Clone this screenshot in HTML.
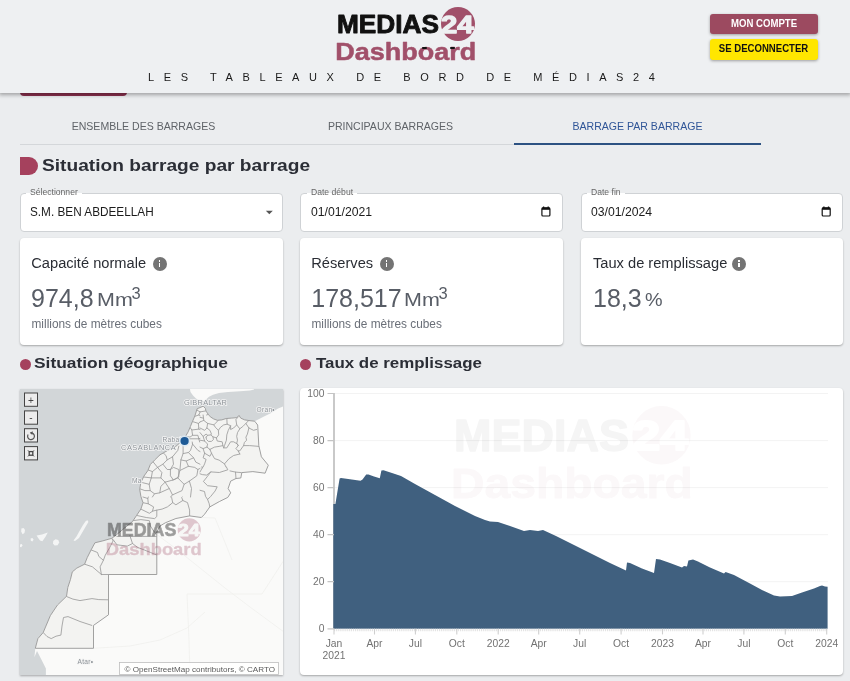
<!DOCTYPE html>
<html lang="fr">
<head>
<meta charset="utf-8">
<title>Medias24 Dashboard - Barrages</title>
<style>
*{box-sizing:border-box;margin:0;padding:0}
html,body{width:850px;height:681px;overflow:hidden}
body{background:#ebedef;font-family:"Liberation Sans",Arial,sans-serif;color:#222;position:relative}
.abs{position:absolute;white-space:nowrap}
#header{position:absolute;left:0;top:0;width:850px;height:93px;background:#eef0f2;box-shadow:0 1px 4px 1px rgba(0,0,0,.32);z-index:5}
.logo-medias{left:337px;top:8px;font-weight:700;font-size:26px;line-height:30px;color:#111;letter-spacing:-.1px}
.logo-dash{left:336px;top:35px;font-weight:700;font-size:24.4px;line-height:30px;color:#a1506a;letter-spacing:1.25px}
.logo-circle{left:441px;top:7px;width:34px;height:34px;border-radius:50%;background:#a1506a}
.logo-24{left:439px;top:8px;font-weight:700;font-size:26px;line-height:30px;color:#eef0f2;letter-spacing:-1.5px}
.subtitle{left:148px;top:70px;font-size:11px;line-height:14px;letter-spacing:9.6px;color:#1a1a1a}
.btn{position:absolute;left:710px;width:107.5px;height:20.5px;border-radius:3px;font-weight:700;font-size:10.2px;line-height:20.5px;text-align:center;box-shadow:0 1px 3px rgba(0,0,0,.35)}
.btn span{display:inline-block;transform:scaleX(.94)}
.btn1{top:13.6px;background:#9c4a60;color:#fff}
.btn2{top:39px;background:#ffe600;color:#111}
#stub{position:absolute;left:20px;top:78px;width:107px;height:18px;border-radius:4px;background:#8a2f4d;z-index:1}
.tab{position:absolute;top:120px;width:247px;text-align:center;font-size:10.55px;line-height:13px;color:#5f6368}
.tabline{position:absolute;left:20px;top:144px;width:494px;height:1px;background:#d4d7da}
.tabind{position:absolute;left:514px;top:143px;width:247px;height:2px;background:#2c5282}
.dshape{position:absolute;left:20px;top:157px;width:18px;height:18px;background:#a5415d;border-radius:0 9px 9px 0}
.h1{left:42px;top:154px;font-weight:700;font-size:17px;line-height:24px;color:#2b2e36;transform:scaleX(1.126);transform-origin:0 50%}
.field{position:absolute;top:193px;width:263px;height:39px;background:#fff;border:1px solid #cfd2d5;border-radius:4px}
.flabel{position:absolute;top:186px;font-size:8.6px;line-height:12px;color:#666;background:linear-gradient(#ebedef 0,#ebedef 7px,#fff 7px);padding:0 4px}
.fval{top:204px;font-size:12.4px;line-height:16px;color:#1c1c1c;transform:scaleX(.985);transform-origin:0 50%}
.card{position:absolute;top:238px;width:263px;height:107px;background:#fff;border-radius:4px;box-shadow:0 1px 2px rgba(0,0,0,.3)}
.ctitle{top:253.8px;font-size:14.65px;line-height:18px;color:#2a2d34}
.cnum{font-size:25px;line-height:28px;color:#585d66;top:284.4px}
.cunit{font-size:19px;line-height:28px;color:#585d66;top:286px;transform:scaleX(1.13);transform-origin:0 50%}
.csup{font-size:16.5px;line-height:20px;color:#585d66;top:283px}
.csub{font-size:11.85px;line-height:14px;color:#6a6f78;top:316.6px}
.info{position:absolute;top:256.8px;width:14.2px;height:14.2px;border-radius:50%;background:#747474}
.info:before{content:"";position:absolute;left:6.2px;top:3.4px;width:1.8px;height:1.7px;background:#fff}
.info:after{content:"";position:absolute;left:6.2px;top:5.9px;width:1.8px;height:4.8px;background:#fff}
.dot{position:absolute;top:358.5px;width:11px;height:11px;border-radius:50%;background:#a5415d}
.h2{top:352.3px;font-weight:700;font-size:15.5px;line-height:22px;color:#2b2e36;transform-origin:0 50%}
#map{position:absolute;left:20px;top:389px;width:263px;height:286px;box-shadow:0 1px 2px rgba(0,0,0,.3);overflow:hidden;background:#d3d7d9}
#chart{position:absolute;left:300px;top:388px;width:543px;height:287px;background:#fff;border-radius:4px;box-shadow:0 1px 2px rgba(0,0,0,.3);overflow:hidden}
</style>
</head>
<body>
<div id="stub"></div>
<div id="header">
  <!--LOGO--><svg width="850" height="93" viewBox="0 0 850 93" style="position:absolute;left:0;top:0" font-family="Liberation Sans, Arial, sans-serif"><circle cx="458" cy="24" r="17" fill="#a1506a"/><text x="441" y="32.6" font-size="24.5" font-weight="700" fill="#eef0f2" stroke="#eef0f2" stroke-width="1.3" stroke-linejoin="round" textLength="32.5" lengthAdjust="spacingAndGlyphs">24</text><text x="337" y="33.2" font-size="26" font-weight="700" fill="#111" stroke="#111" stroke-width="0.9" stroke-linejoin="round" textLength="102" lengthAdjust="spacingAndGlyphs">MEDIAS</text><text x="335.3" y="60.3" font-size="24.5" font-weight="700" fill="#a1506a" stroke="#a1506a" stroke-width="0.5" stroke-linejoin="round" textLength="141" lengthAdjust="spacingAndGlyphs">Dashboard</text><rect x="422" y="47" width="5" height="2" rx="1" fill="#111"/><rect x="450" y="47" width="5" height="2" rx="1" fill="#111"/></svg><!--/LOGO-->
  <div class="abs subtitle">LES TABLEAUX DE BORD DE MÉDIAS24</div>
  <div class="btn btn1"><span>MON COMPTE</span></div>
  <div class="btn btn2"><span>SE DECONNECTER</span></div>
</div>

<div class="tab" style="left:20px">ENSEMBLE DES BARRAGES</div>
<div class="tab" style="left:267px">PRINCIPAUX BARRAGES</div>
<div class="tab" style="left:514px;color:#2f5597">BARRAGE PAR BARRAGE</div>
<div class="tabline"></div>
<div class="tabind"></div>

<div class="dshape"></div>
<div class="abs h1">Situation barrage par barrage</div>

<div class="field" style="left:20px"></div>
<div class="field" style="left:300px"></div>
<div class="field" style="left:581px;width:262px"></div>
<div class="flabel" style="left:26px">Sélectionner</div>
<div class="flabel" style="left:307px">Date début</div>
<div class="flabel" style="left:587px">Date fin</div>
<div class="abs fval" style="left:30px;transform:scaleX(.95)">S.M. BEN ABDEELLAH</div>
<div class="abs fval" style="left:311px">01/01/2021</div>
<div class="abs fval" style="left:591px">03/01/2024</div>

<svg class="abs" style="left:0;top:190px" width="850" height="45" viewBox="0 190 850 45">
<path d="M265.8 210.7h7l-3.5 3.6z" fill="#555"/>
<g id="cal1" fill="none" stroke="#111" stroke-width="1.2"><rect x="541.9" y="207.9" width="8" height="8.1" rx="1"/><path d="M541.9 208.7h8" stroke-width="2.2"/><path d="M543.6 206.4v1.6M548.2 206.4v1.6" stroke-width="1.3"/></g>
<g fill="none" stroke="#111" stroke-width="1.2" transform="translate(280.3 0)"><rect x="541.9" y="207.9" width="8" height="8.1" rx="1"/><path d="M541.9 208.7h8" stroke-width="2.2"/><path d="M543.6 206.4v1.6M548.2 206.4v1.6" stroke-width="1.3"/></g>
</svg>
<div class="card" style="left:20px"></div>
<div class="card" style="left:300px"></div>
<div class="card" style="left:581px;width:262px"></div>

<div class="abs ctitle" style="left:31.3px">Capacité normale</div><div class="info" style="left:152.5px"></div>
<div class="abs ctitle" style="left:311.3px">Réserves</div><div class="info" style="left:379.5px"></div>
<div class="abs ctitle" style="left:593px">Taux de remplissage</div><div class="info" style="left:732.1px"></div>

<div class="abs cnum" style="left:31px">974,8</div><div class="abs cunit" style="left:97px">Mm</div><div class="abs csup" style="left:131.5px">3</div>
<div class="abs cnum" style="left:311.3px">178,517</div><div class="abs cunit" style="left:404px">Mm</div><div class="abs csup" style="left:438.5px">3</div>
<div class="abs cnum" style="left:593px">18,3</div><div class="abs cunit" style="left:644.5px;transform:scaleX(1.04)">%</div>
<div class="abs csub" style="left:31.5px">millions de mètres cubes</div>
<div class="abs csub" style="left:311.5px">millions de mètres cubes</div>

<div class="dot" style="left:20px"></div>
<div class="abs h2" style="left:34.3px;transform:scaleX(1.12)">Situation géographique</div>
<div class="dot" style="left:300px"></div>
<div class="abs h2" style="left:316px;transform:scaleX(1.09)">Taux de remplissage</div>

<div id="map"><!--MAP--><svg width="264" height="287" viewBox="20 389 264 287" style="position:absolute;left:0;top:0" font-family="Liberation Sans, Arial, sans-serif">
<rect x="20" y="389" width="264" height="287" fill="#d2d6d8"/>
<path d="M45.9,676.0 L45.9,668.6 L41.5,659.8 L37.0,651.0 L34.4,657.2 L35.3,648.3 L37.9,638.6 L43.2,632.5 L50.3,615.7 L57.4,605.1 L66.5,596.3 L67.8,587.5 L70.4,579.7 L72.3,571.9 L76.8,568.1 L84.6,564.2 L87.2,557.7 L91.1,549.9 L94.9,542.8 L102.7,540.9 L111.8,538.3 L116.9,534.4 L124.7,527.9 L132.5,521.5 L136.6,515.4 L140.9,509.0 L143.0,502.7 L140.9,496.4 L139.8,490.0 L139.8,488.7 L140.9,482.4 L144.0,476.0 L147.8,470.7 L150.4,464.4 L154.6,460.1 L160.0,454.8 L167.4,450.6 L175.8,446.4 L183.4,439.7 L185.6,436.2 L188.2,431.8 L190.4,426.5 L192.6,421.2 L194.9,415.9 L197.1,408.8 L203.2,406.2 L205.4,408.4 L205.9,411.0 L208.1,414.1 L210.3,416.8 L213.8,419.0 L217.4,420.3 L221.8,419.9 L226.2,418.5 L231.5,418.1 L236.8,417.6 L239.0,415.4 L240.7,418.1 L244.7,419.9 L250.0,420.7 L254.7,421.2 L263.5,416.8 L270.6,413.2 L277.6,408.8 L284.0,406.2 L284.0,676.0Z" fill="#fafaf9"/>
<path d="M189.8,388.0 L190.5,392.0 L193.0,395.5 L196.0,398.5 L200.0,401.0 L203.5,401.5 L206.0,399.5 L209.0,396.8 L213.0,394.8 L219.0,393.0 L228.0,392.0 L240.0,391.3 L250.0,390.5 L254.0,389.5 L254.0,388.0Z" fill="#fafaf9"/>
<path d="M87.6,520.2 L88.4,522.0 L86.0,526.0 L82.5,532.0 L79.0,538.0 L75.0,541.0 L73.5,540.4 L76.5,536.5 L79.5,531.0 L83.0,525.0 L85.8,521.0Z" fill="#f4f5f5"/>
<path d="M53.2,541.0 L55.5,539.3 L58.3,540.0 L59.2,542.6 L57.6,545.2 L54.6,545.4 L53.0,543.4Z" fill="#f4f5f5"/>
<path d="M36.6,535.4 L42.0,534.4 L47.8,532.4 L45.5,536.8 L42.4,541.2 L40.0,540.6 L38.0,537.8Z" fill="#f4f5f5"/>
<path d="M30.6,538.6 L32.4,538.0 L33.6,539.6 L32.4,541.4 L30.8,540.8Z" fill="#f4f5f5"/>
<path d="M21.4,528.6 L23.6,528.0 L25.0,530.0 L24.4,533.0 L22.6,534.2 L21.2,531.6Z" fill="#f4f5f5"/>
<path d="M20.0,544.6 L21.8,544.0 L22.6,545.6 L21.2,547.2 L20.0,547.0Z" fill="#f4f5f5"/>
<path d="M157.0,534.7 L175.0,548.0 L200.0,568.0 L225.0,588.0 L250.0,607.0 L284.0,632.0" fill="none" stroke="#f0f0ee" stroke-width="0.8"/>
<path d="M187.0,594.0 L230.0,594.0 L262.0,594.0" fill="none" stroke="#f0f0ee" stroke-width="0.8"/>
<path d="M187.0,594.0 L189.0,640.0 L190.0,676.0" fill="none" stroke="#f0f0ee" stroke-width="0.8"/>
<path d="M201.0,517.5 L215.0,518.0 L224.0,540.0 L232.0,560.0" fill="none" stroke="#f0f0ee" stroke-width="0.8"/>
<path d="M93.5,648.3 L130.0,646.0 L160.0,640.0 L187.0,628.0 L205.0,612.0" fill="none" stroke="#f0f0ee" stroke-width="0.8"/>
<path d="M284.0,560.0 L262.0,594.0" fill="none" stroke="#f0f0ee" stroke-width="0.8"/>
<clipPath id="mclip"><path d="M203.2,406.2 L205.4,408.4 L205.9,411.0 L208.1,414.1 L210.3,416.8 L213.8,419.0 L217.4,420.3 L221.8,419.9 L226.2,418.5 L231.5,418.1 L236.8,417.6 L239.0,415.4 L240.7,418.1 L244.7,419.9 L250.0,420.7 L254.7,421.2 L257.7,425.0 L258.8,445.6 L261.4,456.8 L268.3,465.2 L265.1,473.2 L252.9,471.6 L241.8,472.6 L240.8,478.0 L236.0,478.5 L230.7,481.1 L228.1,488.5 L230.7,492.8 L227.8,497.4 L219.3,501.6 L209.8,506.9 L204.5,514.3 L201.3,517.5 L189.6,515.9 L175.9,518.5 L165.3,522.8 L160.0,526.0 L156.8,532.0 L156.8,574.5 L108.5,574.5 L108.5,614.8 L93.5,625.4 L93.5,648.3 L35.3,648.3 L37.9,638.6 L43.2,632.5 L50.3,615.7 L57.4,605.1 L66.5,596.3 L67.8,587.5 L70.4,579.7 L72.3,571.9 L76.8,568.1 L84.6,564.2 L87.2,557.7 L91.1,549.9 L94.9,542.8 L102.7,540.9 L111.8,538.3 L116.9,534.4 L124.7,527.9 L132.5,521.5 L136.6,515.4 L140.9,509.0 L143.0,502.7 L140.9,496.4 L139.8,490.0 L139.8,488.7 L140.9,482.4 L144.0,476.0 L147.8,470.7 L150.4,464.4 L154.6,460.1 L160.0,454.8 L167.4,450.6 L175.8,446.4 L183.4,439.7 L185.6,436.2 L188.2,431.8 L190.4,426.5 L192.6,421.2 L194.9,415.9 L197.1,408.8 L203.2,406.2Z"/></clipPath>
<path d="M203.2,406.2 L205.4,408.4 L205.9,411.0 L208.1,414.1 L210.3,416.8 L213.8,419.0 L217.4,420.3 L221.8,419.9 L226.2,418.5 L231.5,418.1 L236.8,417.6 L239.0,415.4 L240.7,418.1 L244.7,419.9 L250.0,420.7 L254.7,421.2 L257.7,425.0 L258.8,445.6 L261.4,456.8 L268.3,465.2 L265.1,473.2 L252.9,471.6 L241.8,472.6 L240.8,478.0 L236.0,478.5 L230.7,481.1 L228.1,488.5 L230.7,492.8 L227.8,497.4 L219.3,501.6 L209.8,506.9 L204.5,514.3 L201.3,517.5 L189.6,515.9 L175.9,518.5 L165.3,522.8 L160.0,526.0 L156.8,532.0 L156.8,574.5 L108.5,574.5 L108.5,614.8 L93.5,625.4 L93.5,648.3 L35.3,648.3 L37.9,638.6 L43.2,632.5 L50.3,615.7 L57.4,605.1 L66.5,596.3 L67.8,587.5 L70.4,579.7 L72.3,571.9 L76.8,568.1 L84.6,564.2 L87.2,557.7 L91.1,549.9 L94.9,542.8 L102.7,540.9 L111.8,538.3 L116.9,534.4 L124.7,527.9 L132.5,521.5 L136.6,515.4 L140.9,509.0 L143.0,502.7 L140.9,496.4 L139.8,490.0 L139.8,488.7 L140.9,482.4 L144.0,476.0 L147.8,470.7 L150.4,464.4 L154.6,460.1 L160.0,454.8 L167.4,450.6 L175.8,446.4 L183.4,439.7 L185.6,436.2 L188.2,431.8 L190.4,426.5 L192.6,421.2 L194.9,415.9 L197.1,408.8 L203.2,406.2Z" fill="#f3f3f1" stroke="#969696" stroke-width="0.9" stroke-linejoin="round"/>
<path d="M196.2,409.7 L200.1,411.9 L205.4,411.0 M200.1,411.9 L198.8,415.0 L194.9,416.3 M198.8,415.0 L200.0,415.6 M206.6,415.0 L207.6,414.6 M200.0,422.2 L198.4,423.4 L192.6,421.6 M198.4,423.4 L198.8,429.1 L191.8,430.0 L190.0,427.4 M198.8,429.1 L200.0,429.5 M191.8,430.0 L192.6,435.3 L190.0,437.1 L186.0,436.2 M192.6,435.3 L197.9,435.3 L198.8,438.8 L200.0,438.4 M199.7,442.0 L198.8,438.8 M188.2,438.8 L198.8,438.8 M230.0,470.9 L235.5,472.1 L241.3,472.6 M235.5,472.1 L236.0,478.5 M226.4,467.0 L227.8,469.8 L219.3,472.5 L210.8,471.9 L206.6,475.1 L202.4,474.6 L200.0,473.8 M210.8,471.9 L207.6,476.2 L203.4,481.5 L207.6,485.7 L217.2,486.8 L215.1,491.0 L210.8,496.3 L207.6,499.5 L209.2,503.7 L209.8,506.9 M200.0,472.0 L202.4,467.7 L202.6,467.0 M182.1,497.0 L181.7,497.4 L182.8,500.5 L187.5,502.6 L189.6,510.1 L189.6,515.9 M200.0,490.3 L204.5,491.5 L205.5,496.3 L207.6,499.5 M171.6,497.0 L171.6,497.4 L172.7,502.6 L175.9,504.8 L182.8,500.5 M172.7,502.6 L170.0,504.9 M201.5,467.0 L202.4,467.7 M143.0,497.0 L147.8,498.5 L148.3,503.8 L143.0,502.7 M147.8,498.5 L148.3,497.0 M148.3,503.8 L153.6,506.9 L152.5,511.2 L149.4,513.3 L140.9,509.1 M152.5,511.2 L156.8,510.1 L156.8,516.5 L154.6,518.6 L146.2,517.5 L136.6,515.4 M156.8,510.1 L162.1,509.1 L167.4,506.9 L170.0,504.9 M132.4,520.7 L140.9,519.6 L149.4,520.7 L150.4,526.0 L154.6,532.4 L156.8,534.5 M226.8,417.7 L227.1,424.2 L230.6,425.7 L230.6,429.5 L233.6,428.0 L236.7,424.9 L235.9,419.6 L238.2,416.9 M227.1,424.2 L223.7,424.9 L220.6,427.2 L218.4,430.3 L218.7,434.9 L216.4,437.9 L217.2,441.0 L222.2,441.8 L222.9,445.6 L223.7,447.9 L226.8,447.9 L230.6,441.8 L233.6,441.8 L237.5,444.1 L238.2,445.6 M230.6,425.7 L228.3,430.3 L226.8,434.9 L226.4,440.2 L224.5,445.6 L223.7,447.9 M236.7,424.9 L239.8,428.8 L237.5,432.6 L236.7,436.4 L237.5,440.2 L236.7,443.3 L238.2,445.6 L235.9,448.6 L238.2,450.9 L239.8,454.0 M239.8,428.8 L242.8,426.5 L245.9,423.4 L248.9,420.4 M245.9,423.4 L248.9,428.0 L253.5,430.3 L256.6,429.5 M248.9,428.0 L247.4,434.1 L245.9,437.2 L246.6,440.2 L244.4,442.5 L243.6,445.6 L239.8,450.9 L238.2,450.9 M243.6,445.6 L249.7,445.6 L258.9,446.4 M239.8,454.0 L233.6,455.5 L229.1,458.6 L224.5,463.9 L226.0,467.0 M224.5,463.9 L219.1,460.1 L214.5,458.6 L211.5,453.2 L209.9,449.4 M209.9,449.4 L214.5,447.1 L219.1,446.4 L222.9,445.6 M206.1,437.2 L207.6,435.3 L210.7,434.9 L213.0,436.8 L213.4,439.5 L211.5,441.4 L208.4,441.4 L206.5,439.5 L206.1,437.2 M209.9,449.4 L206.9,447.1 L207.6,444.1 L204.6,441.0 L203.1,436.4 L206.1,434.1 L207.6,435.3 M213.0,436.8 L216.4,437.9 M200.0,421.9 L203.8,420.4 L207.6,423.4 L206.9,428.0 L204.6,430.3 L200.0,428.0 M207.6,423.4 L213.8,424.9 L216.8,421.9 L219.9,418.1 M213.8,424.9 L215.3,427.2 L218.4,430.3 M206.9,428.0 L209.9,430.3 L211.5,434.1 L210.7,434.9 M200.0,447.1 L203.1,448.6 L206.9,447.1 M203.1,448.6 L204.6,453.2 L209.9,456.3 L211.5,453.2 M204.6,453.2 L203.1,457.8 L206.1,459.4 L204.6,463.9 L203.1,467.0 M200.0,432.6 L203.1,436.4 M200.0,440.2 L204.6,441.0 M203.1,415.0 L203.8,420.4 M200.0,417.3 L203.1,418.1 M183.1,444.1 L183.1,453.6 L180.9,459.9 L179.9,470.5 L177.8,477.9 L172.5,480.1 M183.1,453.6 L188.4,452.5 L190.5,450.4 L192.6,444.1 L192.2,442.0 M192.6,444.1 L197.9,450.4 L200.0,451.5 M188.4,452.5 L193.6,457.8 L195.8,462.1 L200.0,464.2 M180.9,459.9 L186.2,461.0 L193.6,457.8 M186.2,461.0 L188.4,466.3 L179.9,470.5 M188.4,466.3 L194.7,467.4 L197.9,469.5 L200.0,468.4 M197.9,469.5 L196.8,475.8 L189.4,481.1 L184.1,484.3 L177.8,477.9 M189.4,481.1 L191.5,488.5 L190.5,497.0 M184.1,484.3 L182.0,490.6 L172.5,494.9 L170.4,497.0 M170.4,469.5 L173.5,467.4 L178.8,469.5 L178.8,476.9 L173.5,480.1 L170.4,475.8 L170.4,469.5 M152.4,461.0 L156.6,456.8 L162.9,452.5 L166.1,455.7 L167.2,459.9 L162.9,464.2 L157.6,467.4 L152.4,461.0 M167.2,459.9 L172.5,456.8 L177.8,450.4 L178.8,446.2 M172.5,456.8 L173.5,464.2 L170.4,469.5 M162.9,464.2 L167.2,469.5 L170.4,469.5 M157.6,467.4 L161.9,472.6 L160.8,477.9 L165.1,482.2 L172.5,480.1 M147.1,469.5 L152.4,471.6 L157.6,467.4 M152.4,471.6 L151.3,477.9 L142.8,476.9 M151.3,477.9 L160.8,477.9 M151.3,477.9 L149.2,484.3 L150.2,490.6 L154.5,493.8 L159.8,492.8 L160.8,486.4 L165.1,482.2 M140.7,482.2 L149.2,484.3 M139.1,488.5 L144.9,490.6 L150.2,490.6 M154.5,493.8 L152.4,497.0 M159.8,492.8 L169.3,488.5 L172.5,494.9 M169.3,488.5 L165.1,482.2 M113.1,539.6 L116.9,544.8 L127.3,546.1 L132.5,543.5 L129.9,535.7 M132.5,543.5 L137.6,547.4 L144.1,549.9 L150.6,552.5 L156.8,555.1 M116.9,536.4 L156.8,536.4 M111.8,538.3 L113.1,540.9 L109.8,547.4 L105.3,555.1 L103.4,560.3 L100.1,566.8 L101.4,574.5 M91.1,549.9 L97.5,552.5 L98.8,556.4 L103.4,560.3 M84.6,564.2 L92.4,566.8 L101.4,574.5 M101.4,574.5 L108.9,574.5 M66.5,596.5 L72.9,599.1 L80.0,600.6 L85.9,599.6 L92.0,598.6 L98.8,599.6 L108.5,599.8 M43.2,632.5 L47.0,636.5 L51.2,638.6 L56.0,636.2 L60.9,635.1 L62.0,626.0 L63.5,617.5 L68.0,616.6 L80.0,621.5 L91.8,625.4" fill="none" stroke="#9c9c9c" stroke-width="0.85" stroke-linejoin="round" stroke-linecap="round" clip-path="url(#mclip)"/>
<text x="184" y="405.3" font-size="7.4" letter-spacing="0.27" fill="#8d9398" stroke="#f4f4f4" stroke-width="1.6" paint-order="stroke" stroke-linejoin="round">GIBRALTAR</text>
<text x="256.5" y="412.2" font-size="6.6" letter-spacing="0.3" fill="#8d9398" stroke="#f4f4f4" stroke-width="1.6" paint-order="stroke" stroke-linejoin="round">Oran•</text>
<text x="162.5" y="442.3" font-size="6.6" letter-spacing="0.3" fill="#8d9398" stroke="#f4f4f4" stroke-width="1.6" paint-order="stroke" stroke-linejoin="round">Rabat</text>
<text x="121" y="450" font-size="7.4" letter-spacing="0.55" fill="#8d9398" stroke="#f4f4f4" stroke-width="1.6" paint-order="stroke" stroke-linejoin="round">CASABLANCA</text>
<text x="132" y="483.3" font-size="6.6" letter-spacing="0.3" fill="#8d9398" stroke="#f4f4f4" stroke-width="1.6" paint-order="stroke" stroke-linejoin="round">Ma</text>
<text x="77.5" y="664" font-size="6.6" letter-spacing="0.3" fill="#8d9398" stroke="#f4f4f4" stroke-width="1.6" paint-order="stroke" stroke-linejoin="round">Atar•</text>
<g transform="translate(-122.2 513.2) scale(.68)" opacity=".37"><text x="337" y="33.2" font-size="26" font-weight="700" fill="#000" stroke="#000" stroke-width="0.9" stroke-linejoin="round" textLength="102" lengthAdjust="spacingAndGlyphs">MEDIAS</text></g>
<g transform="translate(-122.2 513.6) scale(.68)" opacity=".3"><circle cx="458" cy="24" r="17" fill="#a1506a"/><text x="441" y="32.6" font-size="24.5" font-weight="700" fill="#f3f3f1" stroke="#f3f3f1" stroke-width="1.3" stroke-linejoin="round" textLength="32.5" lengthAdjust="spacingAndGlyphs">24</text><text x="335.3" y="60.3" font-size="24.5" font-weight="700" fill="#a1506a" stroke="#a1506a" stroke-width="0.5" stroke-linejoin="round" textLength="141" lengthAdjust="spacingAndGlyphs">Dashboard</text></g>
<circle cx="184.6" cy="441" r="5.7" fill="#dbe9f4" fill-opacity=".85"/><circle cx="184.6" cy="441" r="4.1" fill="#1d5a96"/>
<rect x="24.5" y="393.0" width="13" height="13.3" fill="#ececec" stroke="#444" stroke-width="1"/>
<rect x="24.5" y="410.9" width="13" height="13.3" fill="#ececec" stroke="#444" stroke-width="1"/>
<rect x="24.5" y="428.7" width="13" height="13.3" fill="#ececec" stroke="#444" stroke-width="1"/>
<rect x="24.5" y="446.6" width="13" height="13.3" fill="#ececec" stroke="#444" stroke-width="1"/>
<text x="31" y="403.6" font-size="10" text-anchor="middle" fill="#444">+</text>
<text x="31" y="420.6" font-size="10" text-anchor="middle" fill="#444">-</text>
<g transform="translate(62 0.3) scale(-1 1)"><path d="M33.9 434.2a3.4 3.4 0 1 1 -2.4 -1.6" fill="none" stroke="#555" stroke-width="1.2"/><path d="M29.2 431l2.9 1.5l-2.4 2.1z" fill="#555"/></g>
<rect x="29.2" y="451.6" width="3.6" height="3.6" fill="none" stroke="#444" stroke-width="1.3"/><path d="M28 450.4l1.2 1.2M34 450.4l-1.2 1.2M28 456.4l1.2-1.2M34 456.4l-1.2-1.2" stroke="#444" stroke-width="1"/>
<rect x="119.5" y="662.5" width="159" height="12" fill="#fff" fill-opacity="0.85" stroke="#bdbdbd" stroke-width="0.8"/>
<text x="124.5" y="671.6" font-size="8.1" fill="#5a5a5a" textLength="150.5" lengthAdjust="spacingAndGlyphs">© OpenStreetMap contributors, © CARTO</text>
</svg><!--/MAP--></div>
<div id="chart"><!--CHART--><svg width="543" height="287" viewBox="300 388 543 287" style="position:absolute;left:0;top:0" font-family="Liberation Sans, Arial, sans-serif" font-size="10.3" fill="#727272">
<line x1="335" x2="828" y1="581.7" y2="581.7" stroke="#f3f3f3" stroke-width="1"/>
<line x1="335" x2="828" y1="534.7" y2="534.7" stroke="#f3f3f3" stroke-width="1"/>
<line x1="335" x2="828" y1="487.6" y2="487.6" stroke="#f3f3f3" stroke-width="1"/>
<line x1="335" x2="828" y1="440.6" y2="440.6" stroke="#f3f3f3" stroke-width="1"/>
<line x1="335" x2="828" y1="393.5" y2="393.5" stroke="#f3f3f3" stroke-width="1"/>
<g transform="translate(-124 394.1) scale(1.715)" opacity=".04"><circle cx="458" cy="24" r="17" fill="#a1506a"/><text x="441" y="32.6" font-size="24.5" font-weight="700" fill="#fff" stroke="#fff" stroke-width="1.3" stroke-linejoin="round" textLength="32.5" lengthAdjust="spacingAndGlyphs">24</text><text x="337" y="33.2" font-size="26" font-weight="700" fill="#000" stroke="#000" stroke-width="0.9" stroke-linejoin="round" textLength="102" lengthAdjust="spacingAndGlyphs">MEDIAS</text><text x="335.3" y="60.3" font-size="24.5" font-weight="700" fill="#a1506a" stroke="#a1506a" stroke-width="0.5" stroke-linejoin="round" textLength="141" lengthAdjust="spacingAndGlyphs">Dashboard</text></g>
<line x1="334" x2="334" y1="393.0" y2="629.3" stroke="#c9c9c9" stroke-width="2"/>
<path d="M333.3,628.8 L333.3,504 L335.4,504 L339.6,478.4 L341,478.1 L350,479.2 L360.5,480.8 L362.5,479.5 L366.2,474.6 L368.5,474.6 L374,476.4 L379.8,478.3 L381.4,470.4 L383.5,470.3 L392,473 L401,476.1 L415,484 L435,495 L455,506 L475,516 L485,520 L490,521.6 L498,522 L510,526 L524,531 L530,530 L538,531 L543,530 L556,536 L574,545 L590,553 L610,563 L626,570.4 L627,562.4 L630,563 L642,568.4 L654,573 L656,559 L660,559.5 L670,563 L682,567.4 L684,566 L687,566.4 L688.4,560.4 L693,559.6 L698,561.6 L710,567.6 L724,573.6 L725.6,572 L734,575 L750,583.6 L762,590 L774,595.4 L780,596.4 L792,596 L802,592.4 L814,588.4 L820,586 L822,585.6 L825,586.5 L827.6,586.8 L827.6,628.8 Z" fill="#40607f"/>
<line x1="327.5" x2="334" y1="628.8" y2="628.8" stroke="#c4c4c4" stroke-width="1.2"/>
<text x="324.5" y="632.4" text-anchor="end">0</text>
<line x1="327.5" x2="334" y1="581.7" y2="581.7" stroke="#c4c4c4" stroke-width="1.2"/>
<text x="324.5" y="585.3" text-anchor="end">20</text>
<line x1="327.5" x2="334" y1="534.7" y2="534.7" stroke="#c4c4c4" stroke-width="1.2"/>
<text x="324.5" y="538.3" text-anchor="end">40</text>
<line x1="327.5" x2="334" y1="487.6" y2="487.6" stroke="#c4c4c4" stroke-width="1.2"/>
<text x="324.5" y="491.2" text-anchor="end">60</text>
<line x1="327.5" x2="334" y1="440.6" y2="440.6" stroke="#c4c4c4" stroke-width="1.2"/>
<text x="324.5" y="444.2" text-anchor="end">80</text>
<line x1="327.5" x2="334" y1="393.5" y2="393.5" stroke="#c4c4c4" stroke-width="1.2"/>
<text x="324.5" y="397.1" text-anchor="end">100</text>
<line x1="334" x2="827.6" y1="630.0" y2="630.0" stroke="#e3e3e3" stroke-width="2.4" stroke-dasharray="1.2 0.9"/>
<line x1="334.0" x2="334.0" y1="628.8" y2="634.4" stroke="#cfcfcf" stroke-width="1.1"/>
<text x="334.0" y="647.3" text-anchor="middle">Jan</text>
<text x="334.0" y="659.4" text-anchor="middle">2021</text>
<line x1="374.5" x2="374.5" y1="628.8" y2="634.4" stroke="#cfcfcf" stroke-width="1.1"/>
<text x="374.5" y="647.3" text-anchor="middle">Apr</text>
<line x1="415.4" x2="415.4" y1="628.8" y2="634.4" stroke="#cfcfcf" stroke-width="1.1"/>
<text x="415.4" y="647.3" text-anchor="middle">Jul</text>
<line x1="456.8" x2="456.8" y1="628.8" y2="634.4" stroke="#cfcfcf" stroke-width="1.1"/>
<text x="456.8" y="647.3" text-anchor="middle">Oct</text>
<line x1="498.2" x2="498.2" y1="628.8" y2="634.4" stroke="#cfcfcf" stroke-width="1.1"/>
<text x="498.2" y="647.3" text-anchor="middle">2022</text>
<line x1="538.7" x2="538.7" y1="628.8" y2="634.4" stroke="#cfcfcf" stroke-width="1.1"/>
<text x="538.7" y="647.3" text-anchor="middle">Apr</text>
<line x1="579.7" x2="579.7" y1="628.8" y2="634.4" stroke="#cfcfcf" stroke-width="1.1"/>
<text x="579.7" y="647.3" text-anchor="middle">Jul</text>
<line x1="621.1" x2="621.1" y1="628.8" y2="634.4" stroke="#cfcfcf" stroke-width="1.1"/>
<text x="621.1" y="647.3" text-anchor="middle">Oct</text>
<line x1="662.5" x2="662.5" y1="628.8" y2="634.4" stroke="#cfcfcf" stroke-width="1.1"/>
<text x="662.5" y="647.3" text-anchor="middle">2023</text>
<line x1="703.0" x2="703.0" y1="628.8" y2="634.4" stroke="#cfcfcf" stroke-width="1.1"/>
<text x="703.0" y="647.3" text-anchor="middle">Apr</text>
<line x1="743.9" x2="743.9" y1="628.8" y2="634.4" stroke="#cfcfcf" stroke-width="1.1"/>
<text x="743.9" y="647.3" text-anchor="middle">Jul</text>
<line x1="785.3" x2="785.3" y1="628.8" y2="634.4" stroke="#cfcfcf" stroke-width="1.1"/>
<text x="785.3" y="647.3" text-anchor="middle">Oct</text>
<line x1="826.7" x2="826.7" y1="628.8" y2="634.4" stroke="#cfcfcf" stroke-width="1.1"/>
<text x="826.7" y="647.3" text-anchor="middle">2024</text>
</svg><!--/CHART--></div>
</body>
</html>
